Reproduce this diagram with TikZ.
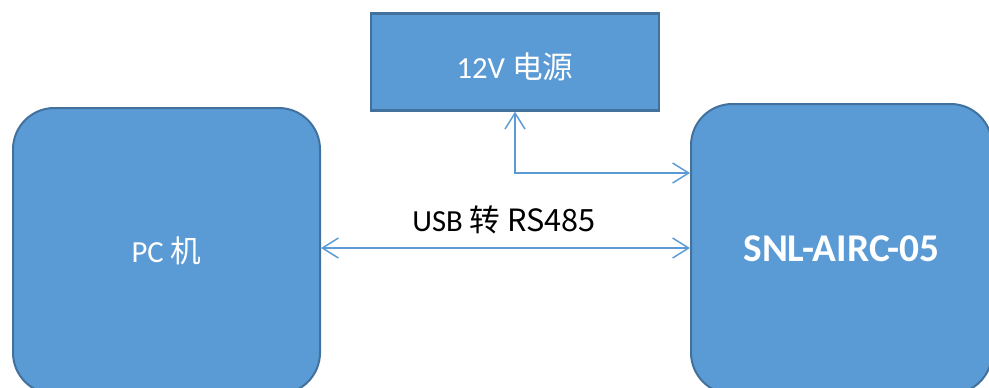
\documentclass[tikz,border=0pt]{standalone}
\usepackage{fontspec}
\setmainfont{Carlito}
\newfontfamily\cjk{Noto Sans CJK SC}
\usetikzlibrary{arrows.meta}
\definecolor{boxfill}{HTML}{5B9BD5}
\definecolor{boxline}{HTML}{41719C}

\begin{document}
\begin{tikzpicture}[x=0.75pt, y=-0.75pt,
    block/.style={draw=boxline, fill=boxfill, line width=1.5pt, text=white,
        rounded corners=31pt, font=\fontsize{23}{28}\selectfont},
    supply/.style={draw=boxline, fill=boxfill, line width=1.8pt, text=white,
        font=\fontsize{23}{28}\selectfont},
    barb/.tip={Straight Barb[length=12pt, width=15pt]},
    link/.style={draw=boxfill, line width=1.1pt, barb-barb}]
    \useasboundingbox (0,0) rectangle (989,387);
    \node[block, minimum width=307*0.75pt, minimum height=286*0.75pt] (pc) at (166.5,251) {PC \cjk{机}};
    \node[block, minimum width=301*0.75pt, minimum height=290*0.75pt,
        font=\fontsize{29.5}{35}\selectfont\bfseries] (snl) at (841.5,249) {SNL-AIRC-05};
    \node[supply, minimum width=288*0.75pt, minimum height=97*0.75pt,
        text height=27pt, text depth=3pt] (pwr) at (515,62) {12V \cjk{电源}};
    % connections
    \draw[link] (pwr.south) |- (snl.west |- 0,173);
    \draw[link] (pc.east |- 0,248) -- (snl.west |- 0,248);
    \node[font=\fontsize{23}{28}\selectfont] (bus) at (504,220) {USB \cjk{转} RS485};
\end{tikzpicture}
\end{document}
